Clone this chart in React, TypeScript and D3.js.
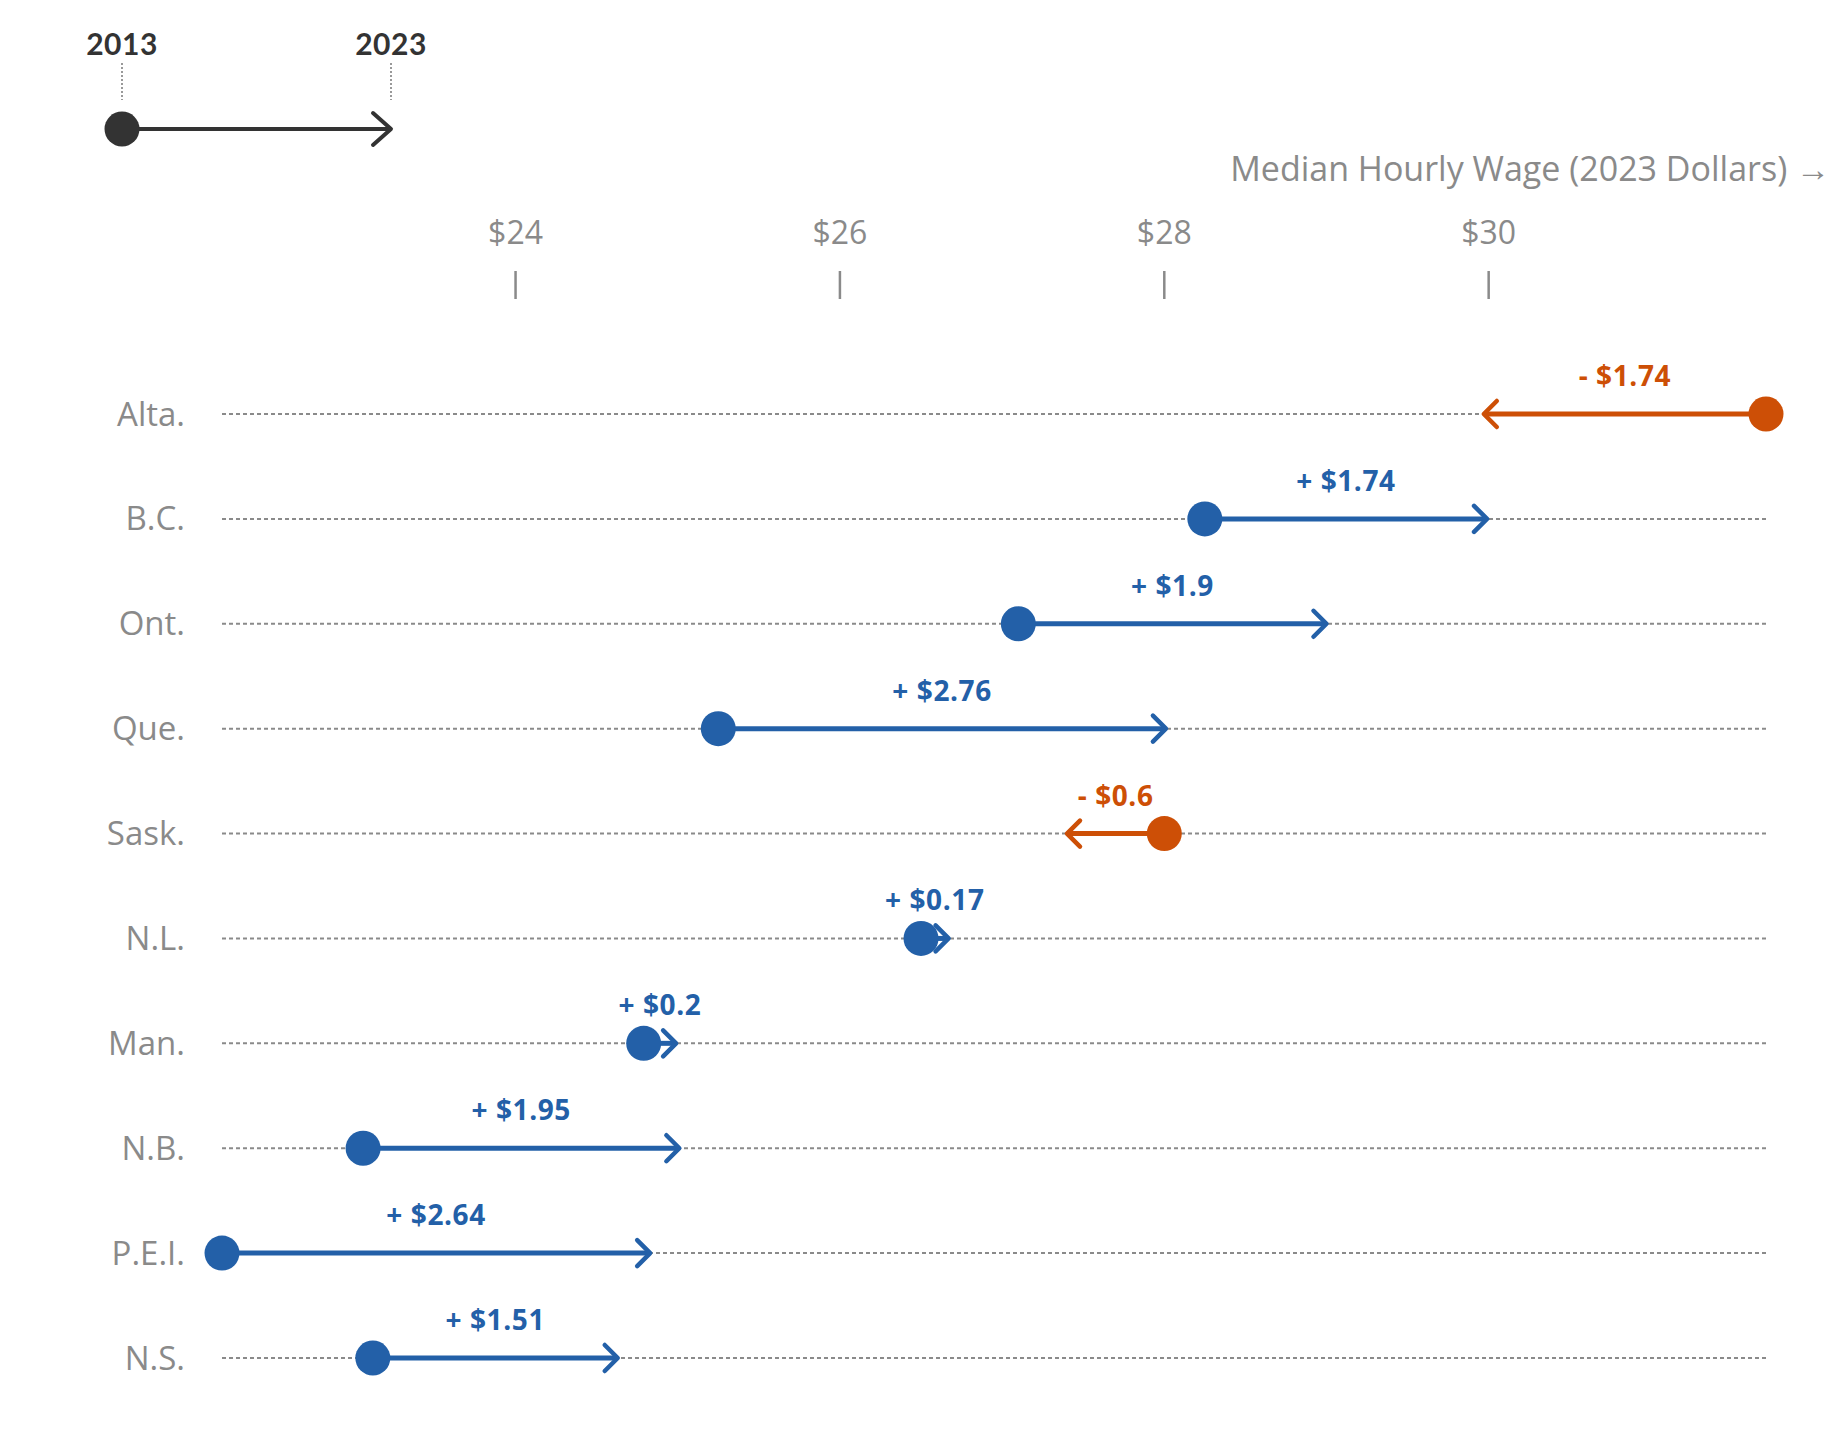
import React from "react";
import * as d3 from "d3";

const provinces = ["Alta.", "B.C.", "Ont.", "Que.", "Sask.", "N.L.", "Man.", "N.B.", "P.E.I.", "N.S."];
const wage2013 = [31.71, 28.25, 27.1, 25.25, 28.0, 26.5, 24.79, 23.06, 22.19, 23.12];
const wage2023 = [29.97, 29.99, 29.0, 28.01, 27.4, 26.67, 24.99, 25.01, 24.83, 24.63];
const tickValues = [24, 26, 28, 30];
const legendYears = ["2013", "2023"];
const axisTitle = "Median Hourly Wage (2023 Dollars) →";

const W = 1832;
const H = 1434;
const BLUE = "#2360A8";
const ORANGE = "#CD4F06";
const GRAY = "#8a8a8a";
const FONT = "'Open Sans', 'Noto Sans', sans-serif";

export default function App() {
  const all = [...wage2013, ...wage2023];
  const x = d3.scaleLinear().domain([d3.min(all)!, d3.max(all)!]).range([222, 1766]);
  const y = d3.scalePoint<string>().domain(provinces).range([414, 1358]);
  const fmtTick = (v: number) => "$" + d3.format("d")(v);
  const legendX = d3.scalePoint<string>().domain(legendYears).range([122, 391]);

  const rows = provinces.map((p, i) => {
    const s = wage2013[i];
    const e = wage2023[i];
    const diff = Math.round((e - s) * 100) / 100;
    return { p, s, e, diff };
  });

  const lx0 = legendX("2013")!;
  const lx1 = legendX("2023")!;

  return (
    <svg
      width={W}
      height={H}
      style={{ position: "absolute", left: 0, top: 0, background: "#fff" }}
    >
      {/* legend */}
      <g>
        {legendYears.map((yr) => (
          <g key={yr}>
            <text
              x={legendX(yr)}
              y={55}
              textAnchor="middle"
              fontFamily="Lato, 'Open Sans', sans-serif"
              fontWeight={700}
              fontSize={30}
              letterSpacing={0.5}
              fill="#333"
            >
              {yr}
            </text>
            <line
              x1={legendX(yr)}
              x2={legendX(yr)}
              y1={63}
              y2={100}
              stroke="#999"
              strokeWidth={2}
              strokeDasharray="2,2"
            />
          </g>
        ))}
        <line x1={lx0} x2={lx1 - 2} y1={129} y2={129} stroke="#333" strokeWidth={4} />
        <path
          d={`M${lx1 - 18},${113} L${lx1},${129} L${lx1 - 18},${145}`}
          fill="none"
          stroke="#333"
          strokeWidth={4}
          strokeLinecap="round"
          strokeLinejoin="round"
        />
        <circle cx={lx0} cy={129} r={17.5} fill="#333" />
      </g>

      {/* axis title */}
      <text
        x={1830}
        y={181}
        textAnchor="end"
        fontFamily={FONT}
        fontSize={34}
        fill={GRAY}
      >
        {axisTitle}
      </text>

      {/* ticks */}
      {tickValues.map((t) => (
        <g key={t}>
          <text
            x={x(t)}
            y={244}
            textAnchor="middle"
            fontFamily={FONT}
            fontSize={32}
            fill={GRAY}
          >
            {fmtTick(t)}
          </text>
          <line x1={x(t)} x2={x(t)} y1={271} y2={299} stroke={GRAY} strokeWidth={2.5} />
        </g>
      ))}

      {/* rows */}
      {rows.map((r) => {
        const cy = y(r.p)!;
        const color = r.diff >= 0 ? BLUE : ORANGE;
        const xs = x(r.s);
        const xe = x(r.e);
        const dir = xe >= xs ? 1 : -1;
        const label =
          (r.diff >= 0 ? "+ " : "- ") + "$" + String(Math.abs(r.diff));
        return (
          <g key={r.p}>
            <text
              x={185}
              y={cy}
              dy="0.35em"
              textAnchor="end"
              fontFamily={FONT}
              fontSize={33}
              fill={GRAY}
            >
              {r.p}
            </text>
            <line
              x1={x.range()[0]}
              x2={x.range()[1]}
              y1={cy}
              y2={cy}
              stroke="#8a8a8a"
              strokeWidth={2}
              strokeDasharray="4,3"
            />
            <line x1={xs} x2={xe - dir * 2} y1={cy} y2={cy} stroke={color} strokeWidth={5} />
            <path
              d={`M${xe - dir * 13},${cy - 13} L${xe},${cy} L${xe - dir * 13},${cy + 13}`}
              fill="none"
              stroke={color}
              strokeWidth={4.5}
              strokeLinecap="round"
              strokeLinejoin="round"
            />
            <circle cx={xs} cy={cy} r={17.5} fill={color} />
            <text
              x={(xs + xe) / 2}
              y={cy - 28}
              textAnchor="middle"
              fontFamily={FONT}
              fontWeight={700}
              fontSize={28}
              letterSpacing={0.6}
              fill={color}
            >
              {label}
            </text>
          </g>
        );
      })}
    </svg>
  );
}
